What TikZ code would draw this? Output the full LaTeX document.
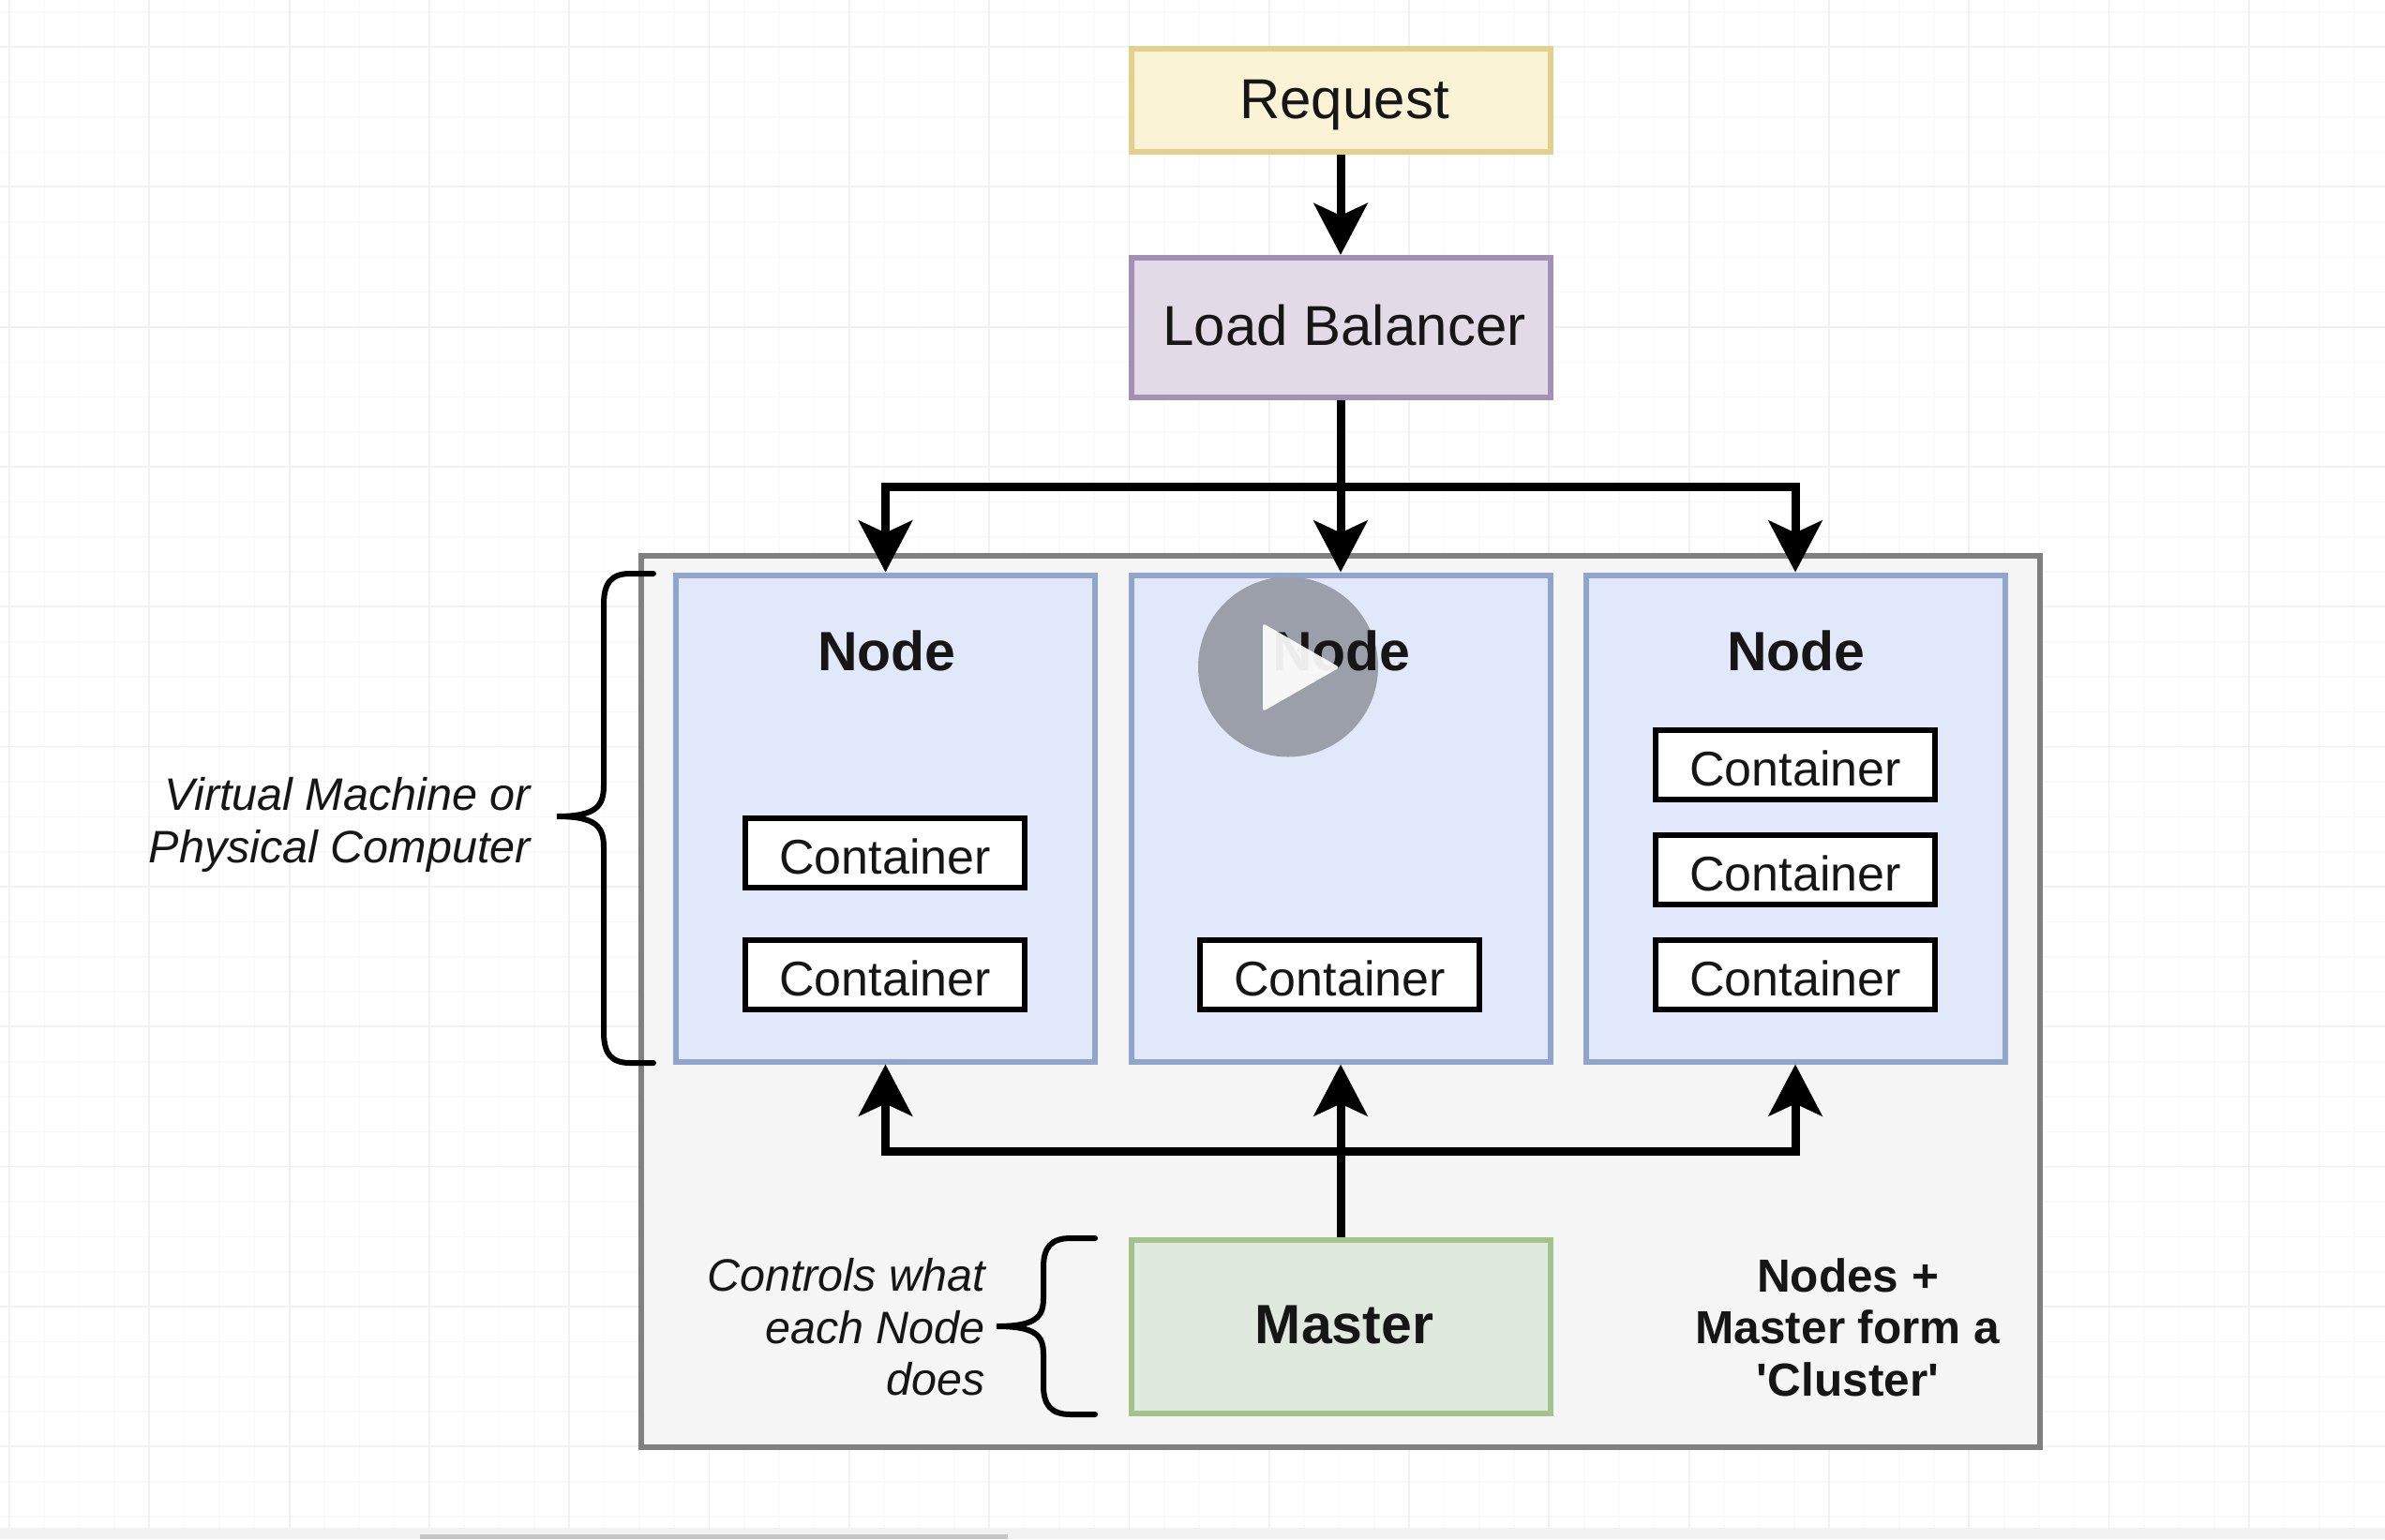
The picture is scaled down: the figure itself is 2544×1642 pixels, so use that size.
\documentclass[tikz,border=0pt]{standalone}
\usepackage{fontspec}
\setmainfont{Liberation Sans}
\newfontfamily\plainfam{Liberation Sans}
\usetikzlibrary{arrows.meta}
\definecolor{gridminor}{HTML}{FAFAFA}
\definecolor{gridmajor}{HTML}{F1F1F1}
\definecolor{txt}{HTML}{161616}
\definecolor{reqfill}{HTML}{FAF3D6}
\definecolor{reqline}{HTML}{E2D08C}
\definecolor{lbfill}{HTML}{E3DAE8}
\definecolor{lbline}{HTML}{A48FB6}
\definecolor{nodefill}{HTML}{E1E8F9}
\definecolor{nodeline}{HTML}{8FA5CB}
\definecolor{masterfill}{HTML}{DFE9DE}
\definecolor{masterline}{HTML}{A3C28C}
\definecolor{clusterfill}{HTML}{F5F5F5}
\definecolor{clusterline}{HTML}{808080}
\definecolor{playgrey}{HTML}{9A9FA9}
\tikzset{
  x=1pt,y=-1pt,
  every node/.style={inner sep=0pt,text=txt},
  boxbase/.style={draw,rectangle,line width=6pt,minimum width=447pt},
  request/.style={boxbase,fill=reqfill,draw=reqline,minimum height=110pt},
  balancer/.style={boxbase,fill=lbfill,draw=lbline,minimum height=149pt},
  worker/.style={boxbase,fill=nodefill,draw=nodeline,minimum height=519pt},
  master/.style={boxbase,fill=masterfill,draw=masterline,minimum height=185pt},
  cluster/.style={draw=clusterline,fill=clusterfill,line width=6pt,rectangle,minimum width=1492pt,minimum height=951pt},
  ctr/.style={draw=black,fill=white,line width=6.5pt,rectangle,minimum width=298pt,minimum height=74pt},
  ctrtext/.style={font=\fontsize{52}{60}\selectfont,yshift=-3.5pt},
  bigtext/.style={font=\fontsize{60}{66}\selectfont},
  title/.style={font=\bfseries\fontsize{59}{66}\selectfont},
  note/.style={font=\itshape\fontsize{48.5}{55.5}\selectfont,align=right,anchor=east},
  boldnote/.style={font=\bfseries\fontsize{49.5}{55.5}\selectfont,align=center},
  flow/.style={draw=black,line width=9pt,-{Stealth[length=55pt,width=57pt,inset=13pt]}},
  brace/.style={draw=black,line width=6pt,line cap=round}
}
\begin{document}
\begin{tikzpicture}
\useasboundingbox (0,0) rectangle (2544,1642);
\fill[white] (0,0) rectangle (2544,1642);
% canvas grid
\foreach \k in {0,...,68} \draw[gridminor,line width=1.6pt] ({10+37.33*\k},0) -- ({10+37.33*\k},1630);
\foreach \k in {0,...,43} \draw[gridminor,line width=1.6pt] (0,{13+37.33*\k}) -- (2544,{13+37.33*\k});
\foreach \k in {0,...,17} \draw[gridmajor,line width=1.8pt] ({10+149.3*\k},0) -- ({10+149.3*\k},1630);
\foreach \k in {0,...,10} \draw[gridmajor,line width=1.8pt] (0,{50+149.3*\k}) -- (2544,{50+149.3*\k});
\fill[black!5] (0,1630) rectangle (2544,1642);
\fill[black!22] (448,1637) rectangle (1075,1642);

\node[cluster] (clu) at (1430,1068.5) {};
\node[request] (req) at (1430,107) {};
\node[bigtext] (reqtext) at (1434,112.5) {Request};
\node[balancer] (lb) at (1430,349.5) {};
\node[bigtext] (lbtext) at (1434,347) {Load Balancer};
\node[worker] (n1) at (944.5,873) {};
\node[worker] (n2) at (1430,873) {};
\node[worker] (n3) at (1915,873) {};
\node[master] (mas) at (1430,1415) {};
\node[title] (mastext) at (1434,1413) {Master};

\node[ctr] (c11) at (944,910) {};
\node[ctr] (c12) at (944,1040) {};
\node[ctr] (c21) at (1429,1040) {};
\node[ctr] (c31) at (1915,816) {};
\node[ctr] (c32) at (1915,928) {};
\node[ctr] (c33) at (1915,1040) {};
\node[ctrtext] (ct11) at (c11) {Container};
\node[ctrtext] (ct12) at (c12) {Container};
\node[ctrtext] (ct21) at (c21) {Container};
\node[ctrtext] (ct31) at (c31) {Container};
\node[ctrtext] (ct32) at (c32) {Container};
\node[ctrtext] (ct33) at (c33) {Container};

% connectors
\coordinate (topbus) at (1430,519);
\coordinate (botbus) at (1430,1228);
\draw[flow] (req.south) -- (lb.north);
\draw[flow] (lb.south) -- (n2.north);
\draw[flow] (topbus) -| (n1.north);
\draw[flow] (topbus) -| (n3.north);
\draw[flow] (mas.north) -- (n2.south);
\draw[flow] (botbus) -| (n1.south);
\draw[flow] (botbus) -| (n3.south);

% braces
\coordinate (b1tip) at (594,871);
\draw[brace] (697,612) -- (672,612) .. controls (652,612) and (644,622) .. (644,645)
  -- (644,838) .. controls (644,860) and (636,871) .. (b1tip)
  .. controls (636,871) and (644,882) .. (644,904)
  -- (644,1101) .. controls (644,1124) and (652,1134) .. (672,1134) -- (697,1134);
\coordinate (b2tip) at (1063,1415);
\draw[brace] (1168,1321) -- (1142,1321) .. controls (1121,1321) and (1113,1331) .. (1113,1352)
  -- (1113,1385) .. controls (1113,1405) and (1105,1415) .. (b2tip)
  .. controls (1105,1415) and (1113,1425) .. (1113,1445)
  -- (1113,1478) .. controls (1113,1499) and (1121,1509) .. (1142,1509) -- (1168,1509);

% labels
\node[note] (vm) at (566,880) {Virtual Machine or\\Physical Computer};
\node[note] (ctl) at (1051,1416) {Controls what\\each Node\\does};
\node[boldnote] (clu2) at (1971,1416) {Nodes +\\Master form a\\{\plainfam\bfseries 'Cluster'}};
\node[title] (t1) at (946,694) {Node};
\node[title] (t3) at (1916,694) {Node};

% video play overlay
\fill[playgrey] (1374,711.5) circle (96);
\node[title] (t2) at (1431,694) {Node};
\fill[white,opacity=.92,rounded corners=3pt] (1347,665) -- (1429,712) -- (1347,759) -- cycle;
\end{tikzpicture}
\end{document}
